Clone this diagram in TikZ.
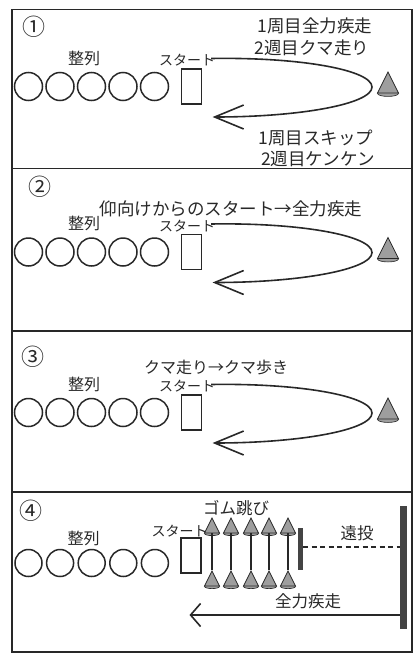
\documentclass[tikz,border=0pt]{standalone}
\usepackage{fontspec}
\setmainfont{Noto Sans CJK JP}
\usetikzlibrary{arrows.meta,shapes.geometric}
\definecolor{ink}{RGB}{40,40,40}
\definecolor{conefill}{RGB}{158,158,158}
\definecolor{barfill}{RGB}{68,68,68}
\tikzset{
  frame/.style = {draw=ink, line width=1.5pt},
  player/.style = {circle, draw=ink, line width=1.5pt, minimum size=#1, inner sep=0pt},
  player/.default = 28pt,
  startbox/.style = {rectangle, draw=ink, line width=1.5pt,
    minimum width=20pt, minimum height=35pt, inner sep=0pt},
  word/.style = {text=ink, inner sep=0pt, font=\fontsize{#1}{#1}\selectfont},
  word/.default = 17.5,
  cone/.style = {isosceles triangle, isosceles triangle stretches,
    shape border rotate=90, draw=ink, fill=conefill, line width=0.8pt,
    inner sep=0pt, anchor=apex, minimum width=#1, minimum height=#1,
    append after command={\pgfextra{\draw[ink, line width=0.6pt, fill=conefill]
      (\tikzlastnode.lower side) ellipse[x radius=#1/2, y radius=#1/7];}}},
  bar/.style = {rectangle, fill=barfill, inner sep=0pt},
  run/.style = {draw=ink, line width=1.6pt},
  rubber/.style = {draw=ink, line width=1.2pt},
  throw/.style = {draw=ink, line width=1.4pt, dash pattern=on 5pt off 3.5pt}
}
\tikzset{>={Straight Barb[length=29pt,width=24pt]}}

\begin{document}
\begin{tikzpicture}[x=1pt,y=-1pt]
  \useasboundingbox (0,0) rectangle (417,659);
  % frame
  \draw[frame] (12,9.5) rectangle (412,652);
  \foreach \y in {168.5,331,492}
    \draw[frame] (12,\y) -- (412,\y);

  % panels 1-3: line up, start, round the cone
  \foreach \n/\dy in {1/0,2/165.5,3/326}{
    \begin{scope}[shift={(0,\dy)}]
      \foreach \i in {1,...,5}
        \node[player] (p\n\i) at ({28.5+31.5*(\i-1)},86.5) {};
      \node[word=16] (line\n) at (84,58) {整列};
      \node[startbox] (box\n) at (191.5,86.5) {};
      \node[word=14] (start\n) at (187,60.5) {スタート};
      \node[cone=21] (cone\n) at (388,71) {};
      \coordinate (back\n) at (212.6,117);
      \draw[run,->] ([xshift=-4pt,yshift=2pt]start\n.east)
        .. controls (300,57) and (372,70) .. (372,87)
        .. controls (372,104) and (300,117) .. (back\n);
    \end{scope}
  }

  % panel 1
  \node[word=23] (num1) at (34,27) {①};
  \node[word] (lap1) at (315,25.5) {1周目全力疾走};
  \node[word] (lap2) at (312,47.5) {2週目クマ走り};
  \node[word] (lap3) at (316,137.5) {1周目スキップ};
  \node[word] (lap4) at (318,158.5) {2週目ケンケン};

  % panel 2
  \node[word=23] (num2) at (40,187) {②};
  \node[word] (task2) at (231,209) {仰向けからのスタート→全力疾走};

  % panel 3
  \node[word=23] (num3) at (33,356.5) {③};
  \node[word=16] (task3) at (216,367.5) {クマ走り→クマ歩き};

  % panel 4
  \node[word=23] (num4) at (31,511) {④};
  \foreach \i in {1,...,5}
    \node[player=27pt] (p4\i) at ({28.5+31.6*(\i-1)},563) {};
  \node[word=16] (line4) at (83.5,538) {整列};
  \node[startbox] (box4) at (191,555.5) {};
  \node[word=14] (start4) at (179.5,531) {スタート};
  \node[word=16.5] (rubberword) at (236,508.5) {ゴム跳び};
  % rubber jump
  \foreach \i/\x in {1/212,2/231,3/251,4/269,5/288}{
    \node[cone=15] (top\i) at (\x,517) {};
    \node[cone=15] (bot\i) at (\x,570) {};
    \draw[rubber] (top\i) -- (bot\i);
  }
  % throw, sprint back
  \node[bar, minimum width=5pt, minimum height=42pt] (net) at (300.5,549) {};
  \node[bar, minimum width=7pt, minimum height=123pt] (wall) at (403.5,567.5) {};
  \draw[throw] ([yshift=2pt]net.east) -- ([yshift=2pt]net.east -| wall.west);
  \node[word=16.5] (throwword) at (357,533) {遠投};
  \coordinate (goal) at (189.5,615);
  \draw[run,-{Straight Barb[length=10pt,width=23pt]}] (wall.west |- goal) -- (goal);
  \node[word=16.5] (sprint) at (308,601) {全力疾走};
\end{tikzpicture}
\end{document}
